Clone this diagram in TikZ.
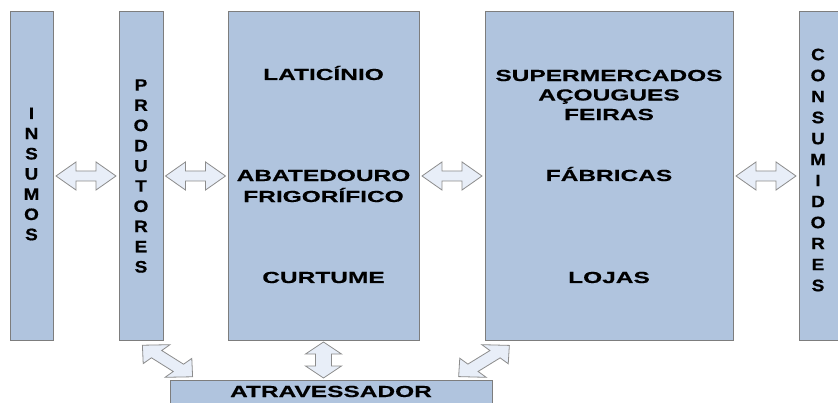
\documentclass[tikz,border=0pt]{standalone}
\usepackage{fontspec}
\newfontfamily\labfont{Liberation Sans}[FakeStretch=1.53, FakeBold=0.4]
\newfontfamily\vertfont{Liberation Sans}[FakeStretch=1.15, FakeBold=0.6]
\usetikzlibrary{calc}
\definecolor{boxfill}{RGB}{176,196,222}
\definecolor{boxline}{RGB}{125,125,125}
\definecolor{arrfill}{RGB}{232,238,248}
\definecolor{arrline}{RGB}{140,140,140}
\tikzset{
  box/.style={draw=boxline, line width=1pt, fill=boxfill, inner sep=0pt, outer sep=0pt, anchor=north west},
  lab/.style={font=\labfont\bfseries\fontsize{16}{20}\selectfont, align=center, inner sep=0pt},
  vlab/.style={font=\vertfont\bfseries\fontsize{16.5}{20.2}\selectfont, align=center, inner sep=0pt},
  arr/.style={draw=arrline, fill=arrfill, line width=0.8pt, line join=miter},
  pics/dblarr/.style args={#1/#2/#3/#4}{code={
    \draw[arr] ({-#1/2},0) -- ({-#1/2+#3},{-#2}) -- ({-#1/2+#3},{-#4}) -- ({#1/2-#3},{-#4})
      -- ({#1/2-#3},{-#2}) -- ({#1/2},0) -- ({#1/2-#3},{#2}) -- ({#1/2-#3},{#4})
      -- ({-#1/2+#3},{#4}) -- ({-#1/2+#3},{#2}) -- cycle;
  }}
}
\begin{document}
\begin{tikzpicture}[x=1pt, y=-1pt]
\clip (0,0) rectangle (838,403);
\fill[white] (0,0) rectangle (838,403);
% boxes
\node[box, minimum width=43, minimum height=328] (ins) at (10,12) {};
\node[box, minimum width=44, minimum height=328] (prod) at (119,12) {};
\node[box, minimum width=191, minimum height=328] (mid) at (228,12) {};
\node[box, minimum width=248, minimum height=328] (ret) at (485,12) {};
\node[box, minimum width=44, minimum height=328] (con) at (799,12) {};
\node[box, minimum width=322, minimum height=40] (atr) at (170,380) {};
% vertical labels
\node[vlab] (tins) at ($(ins.center)+(0,-2)$) {I\\N\\S\\U\\M\\O\\S};
\node[vlab] (tprod) at (prod.center) {P\\R\\O\\D\\U\\T\\O\\R\\E\\S};
\node[vlab, font=\vertfont\bfseries\fontsize{16.5}{21}\selectfont] (tcon) at ($(con.center)+(-3,-6)$) {C\\O\\N\\S\\U\\M\\I\\D\\O\\R\\E\\S};
% middle box labels
\node[lab, anchor=base] (lat) at ($(mid.north)+(0,68)$) {LATICÍNIO};
\node[lab, font=\labfont\bfseries\fontsize{16}{21}\selectfont] (aba) at ($(mid.north)+(0,174)$) {ABATEDOURO\\FRIGORÍFICO};
\node[lab, anchor=base] (cur) at ($(mid.north)+(0,271)$) {CURTUME};
% right box labels
\node[lab, font=\labfont\bfseries\fontsize{16}{19.5}\selectfont] (sup) at ($(ret.north)+(0,83)$) {SUPERMERCADOS\\AÇOUGUES\\FEIRAS};
\node[lab, anchor=base] (fab) at ($(ret.north)+(0,169)$) {FÁBRICAS};
\node[lab, anchor=base] (loj) at ($(ret.north)+(0,271)$) {LOJAS};
% bottom label
\node[lab, anchor=base] (tatr) at ($(atr.north)+(0,17)$) {ATRAVESSADOR};
% horizontal double arrows
\pic[xscale=1.5] at ($(ins.east)!0.5!(prod.west)$) {dblarr=40/14/13.3/5};
\pic[xscale=1.5] at ($(prod.east)!0.5!(mid.west)$) {dblarr=40/14/13.3/5};
\pic[xscale=1.5] at ($(mid.east)!0.5!(ret.west)$) {dblarr=40/14/13.3/5};
\pic[xscale=1.5] at ($(ret.east)!0.5!(con.west)$) {dblarr=40/14/13.3/5};
% vertical double arrow
\pic[xscale=1.5, rotate=90] at ($(mid.south)!0.5!(mid.south |- atr.north)$) {dblarr=36/12/12/5.3};
% diagonal double arrows
\pic[xscale=1.5, rotate=-43.3] at ($(prod.south east)!0.5!(atr.north west)+(1,1)$) {dblarr=46/13/13/5};
\pic[xscale=1.5, rotate=42.7] at ($(ret.south west)!0.5!(atr.north east)+(-4.5,1)$) {dblarr=46/13/13/5};
\end{tikzpicture}
\end{document}
